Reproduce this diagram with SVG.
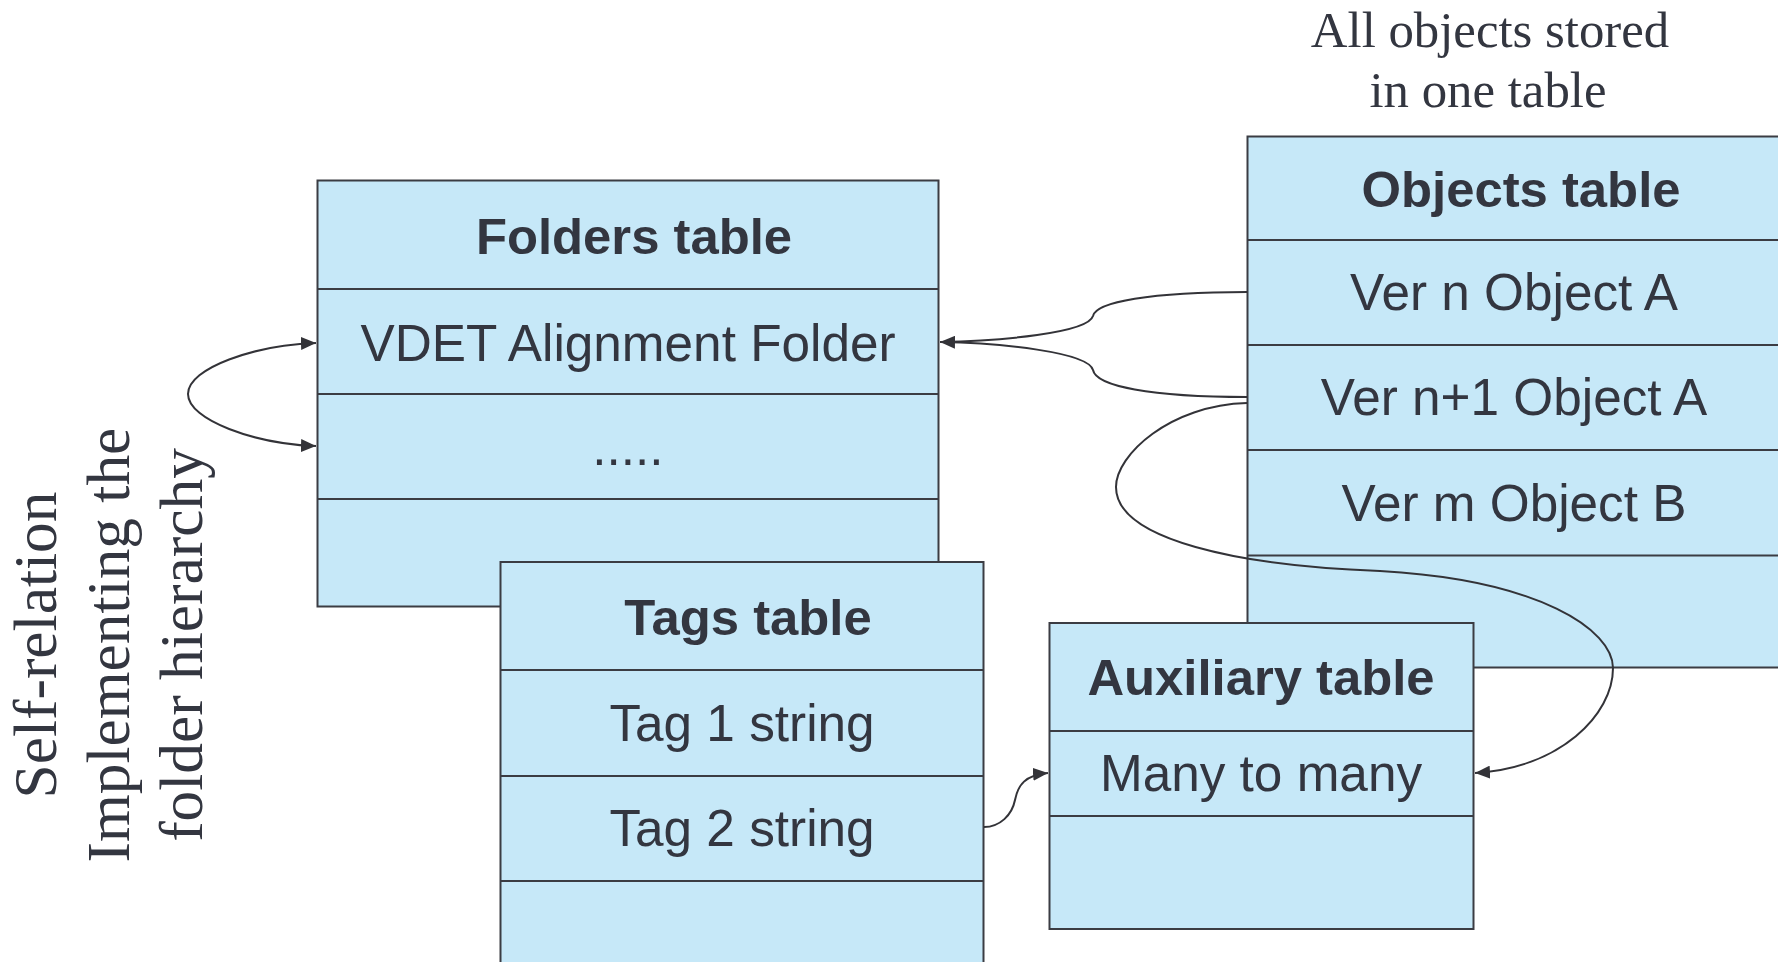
<svg xmlns="http://www.w3.org/2000/svg" width="1778" height="962" viewBox="0 0 1778 962">
<style>
.tbl{fill:#c6e8f8;stroke:#3b3c43;stroke-width:2}
.sep{stroke:#3b3c43;stroke-width:2}
.title{font-family:"Liberation Sans",Arial,sans-serif;font-weight:bold;font-size:50.8px;fill:#333640;text-anchor:middle}
.cell{font-family:"Liberation Sans",Arial,sans-serif;font-size:51.3px;fill:#333640;text-anchor:middle}
.note{font-family:"Liberation Serif","Times New Roman",serif;fill:#333640;text-anchor:middle}
.conn{fill:none;stroke:#333338;stroke-width:2}
</style>
<defs>
<marker id="arr" markerUnits="userSpaceOnUse" markerWidth="15" markerHeight="13" refX="15" refY="6.5" orient="auto-start-reverse">
<path d="M0,0 L15,6.5 L0,13 z" fill="#333338"/>
</marker>
</defs>

<g id="note-top">
<text class="note" x="1490" y="47" font-size="50.8">All objects stored</text>
<text class="note" x="1488" y="107" font-size="50.8">in one table</text>
</g>

<g id="note-self">
<text class="note" font-size="61.4" transform="translate(56,645) rotate(-90)">Self-relation</text>
<text class="note" font-size="61.4" transform="translate(129,645) rotate(-90)">Implementing the</text>
<text class="note" font-size="61.4" transform="translate(202,645) rotate(-90)">folder hierarchy</text>
</g>

<g id="folders-table">
<rect class="tbl" x="317.5" y="180.5" width="621" height="426"/>
<line class="sep" x1="317.5" y1="289" x2="938.5" y2="289"/>
<line class="sep" x1="317.5" y1="394" x2="938.5" y2="394"/>
<line class="sep" x1="317.5" y1="499" x2="938.5" y2="499"/>
<text class="title" x="634" y="254">Folders table</text>
<text class="cell" x="628" y="361">VDET Alignment Folder</text>
<text class="cell" x="628" y="465">.....</text>
</g>

<g id="tags-table">
<rect class="tbl" x="500.5" y="562" width="483" height="420"/>
<line class="sep" x1="500.5" y1="670" x2="983.5" y2="670"/>
<line class="sep" x1="500.5" y1="776" x2="983.5" y2="776"/>
<line class="sep" x1="500.5" y1="881" x2="983.5" y2="881"/>
<text class="title" x="748" y="635">Tags table</text>
<text class="cell" x="742" y="741">Tag 1 string</text>
<text class="cell" x="742" y="846">Tag 2 string</text>
</g>

<g id="objects-table">
<rect class="tbl" x="1247.5" y="136.5" width="545" height="531"/>
<line class="sep" x1="1247.5" y1="240" x2="1792" y2="240"/>
<line class="sep" x1="1247.5" y1="345" x2="1792" y2="345"/>
<line class="sep" x1="1247.5" y1="450" x2="1792" y2="450"/>
<line class="sep" x1="1247.5" y1="555.5" x2="1792" y2="555.5"/>
<text class="title" x="1521" y="207">Objects table</text>
<text class="cell" x="1514" y="310">Ver n Object A</text>
<text class="cell" x="1514" y="415">Ver n+1 Object A</text>
<text class="cell" x="1514" y="521">Ver m Object B</text>
</g>

<g id="auxiliary-table">
<rect class="tbl" x="1049.5" y="623" width="424" height="306"/>
<line class="sep" x1="1049.5" y1="731" x2="1473.5" y2="731"/>
<line class="sep" x1="1049.5" y1="816" x2="1473.5" y2="816"/>
<text class="title" x="1261" y="695">Auxiliary table</text>
<text class="cell" x="1261" y="791">Many to many</text>
</g>

<g id="connectors">
<path class="conn" d="M316,343 C255,345 188,368 188,394 C188,420 255,444 316,446" marker-start="url(#arr)" marker-end="url(#arr)"/>
<path class="conn" d="M1247,292 C1150,292 1096,302 1093,316 C1088,333 1000,341 940,342"/>
<path class="conn" d="M1247,397 C1150,397 1096,386 1093,370 C1088,352 1000,343 940,342" marker-end="url(#arr)"/>
<path class="conn" d="M1247,403 C1170,405 1116,455 1116,487 C1116,540 1240,566 1380,571 C1540,580 1613,630 1613,668 C1613,715 1560,768 1475,773" marker-end="url(#arr)"/>
<path class="conn" d="M984,827 C1000,827 1012,815 1015,800 C1018,785 1025,775 1048,773" marker-end="url(#arr)"/>
</g>
</svg>
